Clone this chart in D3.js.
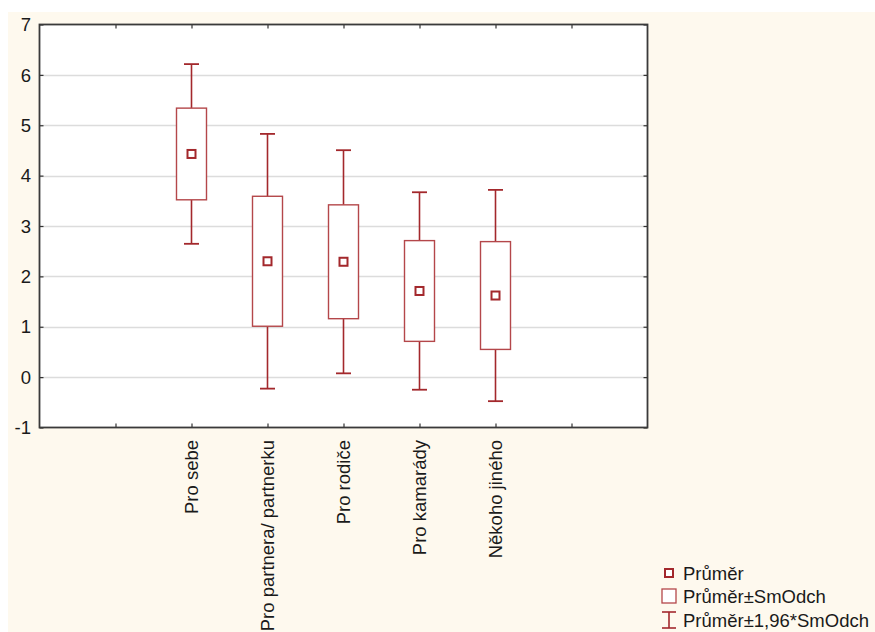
<!DOCTYPE html>
<html>
<head>
<meta charset="utf-8">
<script src="https://cdn.jsdelivr.net/npm/d3@7"></script>
<style>
  html, body { margin: 0; padding: 0; background: #ffffff; }
  svg { display: block; }
  text { font-family: "Liberation Sans", Arial, sans-serif; fill: #1a1a1a; }
</style>
</head>
<body>
<svg id="chart" width="875" height="632"></svg>
<script>
// Categories and summary statistics (mean, standard deviation)
const categories = ["Pro sebe", "Pro partnera/ partnerku", "Pro rodiče", "Pro kamarády", "Někoho jiného"];
const means = [4.43, 2.30, 2.29, 1.71, 1.62];
const sds = [0.91, 1.29, 1.13, 1.00, 1.07];
const yTicks = [-1, 0, 1, 2, 3, 4, 5, 6, 7];
const legendLabels = ["Průměr", "Průměr±SmOdch", "Průměr±1,96*SmOdch"];

const rows = categories.map((c, i) => ({
  name: c,
  slot: i + 2,
  mean: means[i],
  boxLo: means[i] - sds[i],
  boxHi: means[i] + sds[i],
  whLo: means[i] - 1.96 * sds[i],
  whHi: means[i] + 1.96 * sds[i]
}));

const svg = d3.select("#chart");
const W = 875, H = 632;
const plot = { left: 39.5, right: 647.5, top: 24.5, bottom: 427.5 };
const fontSize = 18.5;

const markDark = "#a3282c";
const boxStroke = "#b4474a";

// Page background
svg.append("rect").attr("x", 8).attr("y", 12).attr("width", W - 8).attr("height", H - 12)
  .attr("fill", "#fef9ee");

const x = d3.scaleLinear().domain([0, 8]).range([plot.left, plot.right]);
const y = d3.scaleLinear().domain([-1, 7]).range([plot.bottom, plot.top]);

// Plot area
svg.append("rect")
  .attr("x", plot.left).attr("y", plot.top)
  .attr("width", plot.right - plot.left).attr("height", plot.bottom - plot.top)
  .attr("fill", "#ffffff");

// Horizontal gridlines
svg.append("g").selectAll("line")
  .data(yTicks.filter(t => t > -1 && t < 7))
  .join("line")
  .attr("x1", plot.left).attr("x2", plot.right)
  .attr("y1", d => Math.round(y(d)) + 0.5).attr("y2", d => Math.round(y(d)) + 0.5)
  .attr("stroke", "#dcdcdc").attr("stroke-width", 1.6);

// Axes with inward ticks on all four sides
const xTickVals = d3.range(1, 8);
const axisStyle = g => {
  g.select(".domain").remove();
  g.selectAll(".tick line").attr("stroke", "#333").attr("stroke-width", 1.2);
};
svg.append("g").attr("transform", `translate(0,${plot.bottom})`)
  .call(d3.axisBottom(x).tickValues(xTickVals).tickSize(-4).tickFormat(""))
  .call(axisStyle);
svg.append("g").attr("transform", `translate(0,${plot.top})`)
  .call(d3.axisTop(x).tickValues(xTickVals).tickSize(-4).tickFormat(""))
  .call(axisStyle);
svg.append("g").attr("transform", `translate(${plot.left},0)`)
  .call(d3.axisLeft(y).tickValues(yTicks).tickSize(-4).tickFormat(""))
  .call(axisStyle);
svg.append("g").attr("transform", `translate(${plot.right},0)`)
  .call(d3.axisRight(y).tickValues(yTicks).tickSize(-4).tickFormat(""))
  .call(axisStyle);

// Y tick labels
svg.append("g").selectAll("text")
  .data(yTicks)
  .join("text")
  .attr("x", 31).attr("y", d => y(d))
  .attr("dy", "0.36em")
  .attr("text-anchor", "end")
  .attr("font-size", fontSize)
  .text(d => d);

// X category labels, rotated
svg.append("g").selectAll("text")
  .data(rows)
  .join("text")
  .attr("transform", d => `translate(${x(d.slot)},440) rotate(-90)`)
  .attr("dy", "0.36em")
  .attr("text-anchor", "end")
  .attr("font-size", fontSize)
  .text(d => d.name);

// Plot frame
svg.append("rect")
  .attr("x", plot.left).attr("y", plot.top)
  .attr("width", plot.right - plot.left).attr("height", plot.bottom - plot.top)
  .attr("fill", "none").attr("stroke", "#3a3a3a").attr("stroke-width", 1.8);

// Box and whisker marks
const boxW = 30, capW = 15, meanS = 8;
const g = svg.append("g").selectAll("g").data(rows).join("g");

g.append("line")
  .attr("x1", d => x(d.slot)).attr("x2", d => x(d.slot))
  .attr("y1", d => y(d.whHi)).attr("y2", d => y(d.boxHi))
  .attr("stroke", markDark).attr("stroke-width", 1.6);
g.append("line")
  .attr("x1", d => x(d.slot)).attr("x2", d => x(d.slot))
  .attr("y1", d => y(d.boxLo)).attr("y2", d => y(d.whLo))
  .attr("stroke", markDark).attr("stroke-width", 1.6);
g.append("line")
  .attr("x1", d => x(d.slot) - capW / 2).attr("x2", d => x(d.slot) + capW / 2)
  .attr("y1", d => y(d.whHi)).attr("y2", d => y(d.whHi))
  .attr("stroke", markDark).attr("stroke-width", 1.8);
g.append("line")
  .attr("x1", d => x(d.slot) - capW / 2).attr("x2", d => x(d.slot) + capW / 2)
  .attr("y1", d => y(d.whLo)).attr("y2", d => y(d.whLo))
  .attr("stroke", markDark).attr("stroke-width", 1.8);
g.append("rect")
  .attr("x", d => x(d.slot) - boxW / 2).attr("width", boxW)
  .attr("y", d => y(d.boxHi)).attr("height", d => y(d.boxLo) - y(d.boxHi))
  .attr("fill", "#ffffff").attr("stroke", boxStroke).attr("stroke-width", 1.4);
g.append("rect")
  .attr("x", d => x(d.slot) - meanS / 2).attr("width", meanS)
  .attr("y", d => y(d.mean) - meanS / 2).attr("height", meanS)
  .attr("fill", "#ffffff").attr("stroke", markDark).attr("stroke-width", 2);

// Legend
const leg = svg.append("g");
const legX = 669, legRows = [573, 596, 620];
leg.append("rect").attr("x", legX - 4).attr("y", legRows[0] - 4).attr("width", 8).attr("height", 8)
  .attr("fill", "#fff").attr("stroke", markDark).attr("stroke-width", 2);
leg.append("rect").attr("x", legX - 7).attr("y", legRows[1] - 7).attr("width", 14).attr("height", 14)
  .attr("fill", "#fff").attr("stroke", boxStroke).attr("stroke-width", 1.3);
leg.append("line").attr("x1", legX).attr("x2", legX).attr("y1", legRows[2] - 8).attr("y2", legRows[2] + 8)
  .attr("stroke", markDark).attr("stroke-width", 1.6);
leg.append("line").attr("x1", legX - 7).attr("x2", legX + 7).attr("y1", legRows[2] - 8).attr("y2", legRows[2] - 8)
  .attr("stroke", markDark).attr("stroke-width", 1.6);
leg.append("line").attr("x1", legX - 7).attr("x2", legX + 7).attr("y1", legRows[2] + 8).attr("y2", legRows[2] + 8)
  .attr("stroke", markDark).attr("stroke-width", 1.6);
leg.selectAll("text").data(legendLabels).join("text")
  .attr("x", 683).attr("y", (d, i) => legRows[i])
  .attr("dy", "0.36em")
  .attr("font-size", fontSize)
  .text(d => d);
</script>
</body>
</html>
